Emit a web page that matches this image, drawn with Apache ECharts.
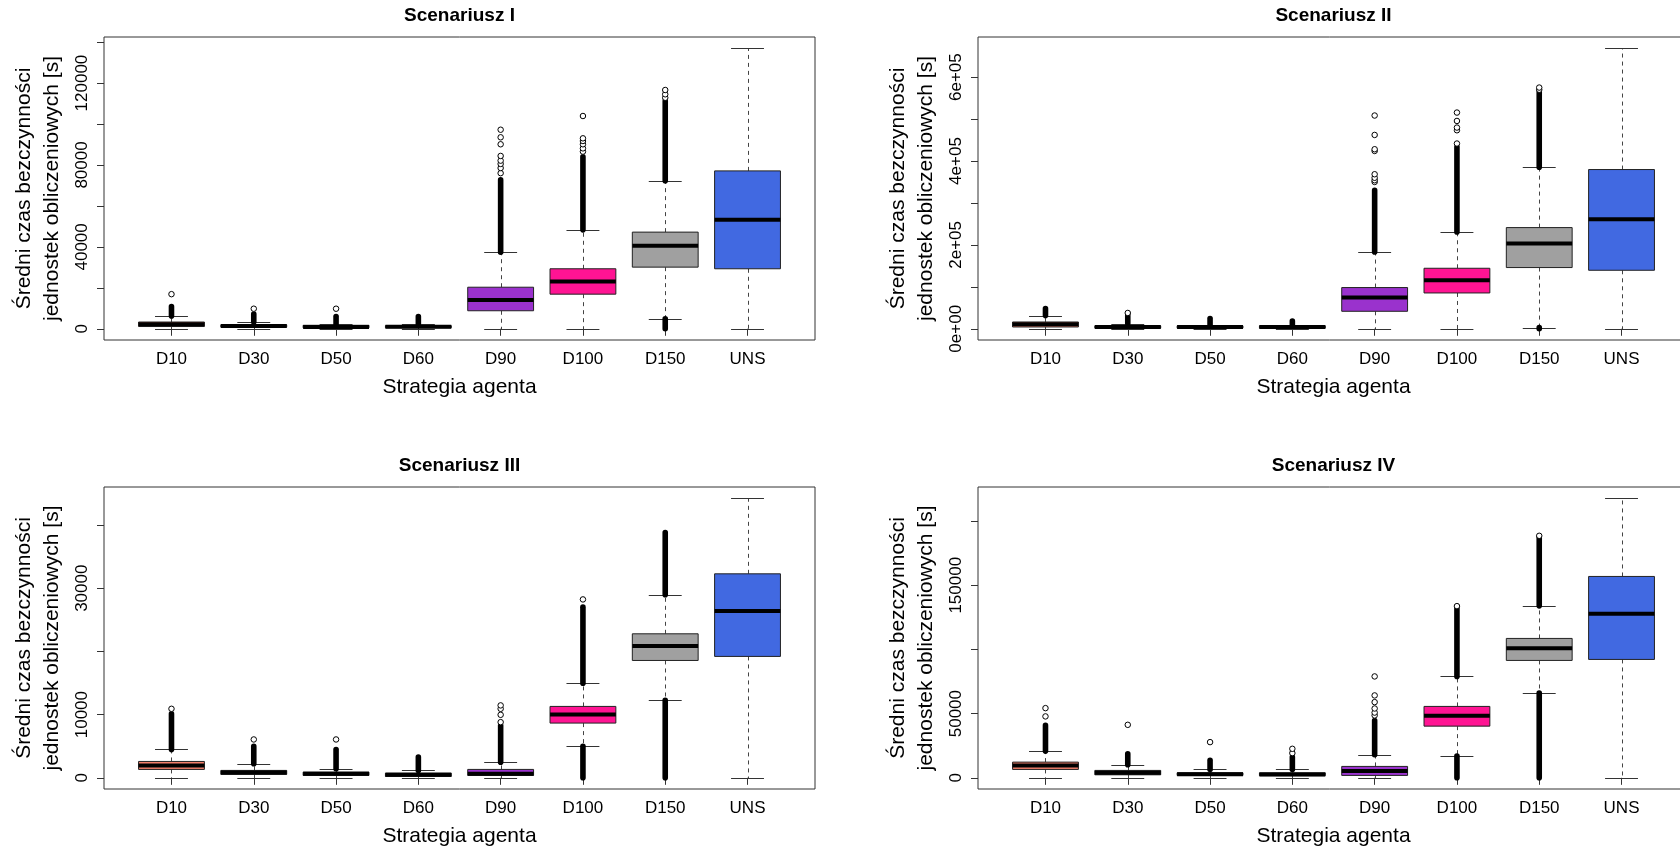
<!DOCTYPE html>
<html>
<head>
<meta charset="utf-8">
<title>Scenariusze</title>
<script src="https://cdn.jsdelivr.net/npm/echarts@6.0.0/dist/echarts.min.js"></script>
<style>
html, body { margin: 0; padding: 0; background: #fff; }
#main { width: 1680px; height: 856px; }
</style>
</head>
<body>
<div id="main"></div>
<script>
// kategorie i kolory pudełek
var categories = ['D10', 'D30', 'D50', 'D60', 'D90', 'D100', 'D150', 'UNS'];
var boxColors = ['#F4806C', '#3a3a3a', '#3a3a3a', '#3a3a3a', '#9A32CD', '#FF1493', '#A0A0A0', '#4169E1'];
var titles = ['Scenariusz I', 'Scenariusz II', 'Scenariusz III', 'Scenariusz IV'];

// [dolny wąs, Q1, mediana, Q3, górny wąs]
var s1Stats = [
    [0, 1100, 2200, 3300, 6300],
    [0, 800, 1300, 1950, 3300],
    [0, 450, 900, 1700, 2200],
    [0, 500, 1000, 1500, 2300],
    [0, 8800, 14100, 20300, 37400],
    [0, 16900, 23100, 29300, 48300],
    [4900, 30100, 40500, 47200, 72300],
    [0, 29300, 53200, 77100, 137000]
];
// gęste serie obserwacji odstających [kategoria, od, do]
var s1Dense = [[1, 6300, 10900], [2, 3300, 7200], [3, 2200, 6000], [4, 2300, 6000],
    [5, 37400, 72700], [6, 48300, 84000], [7, 72300, 111200], [7, 0, 4900]];
// pojedyncze obserwacje odstające [kategoria, wartość]
var s1Points = [[1, 16900], [2, 9800], [3, 9800],
    [5, 76000], [5, 78500], [5, 80500], [5, 82100], [5, 84400], [5, 90100], [5, 93500], [5, 97200],
    [6, 86500], [6, 88100], [6, 90100], [6, 91700], [6, 93000], [6, 103900],
    [7, 112800], [7, 114500], [7, 116600]];
var s1Ticks = [0, 20000, 40000, 60000, 80000, 100000, 120000, 140000];
var s1Labels = [0, 40000, 80000, 120000];

var s2Stats = [
    [0, 4300, 10700, 16200, 31500],
    [0, 1500, 4000, 7000, 12400],
    [0, 1500, 4000, 7000, 9000],
    [0, 1500, 4000, 7000, 9000],
    [0, 41700, 74400, 98300, 183200],
    [0, 85400, 115700, 144300, 230900],
    [2900, 146000, 203200, 241300, 385200],
    [0, 139500, 261100, 379700, 669000]
];
var s2Dense = [[1, 31500, 48200], [2, 12400, 32200], [3, 9000, 24300], [4, 9000, 18600],
    [5, 183200, 330300], [6, 230900, 433600], [7, 385200, 564800], [7, 0, 2900]];
var s2Points = [[2, 37700],
    [5, 350100], [5, 354200], [5, 360000], [5, 368500], [5, 424000], [5, 428100], [5, 462200], [5, 508500],
    [6, 441700], [6, 473400], [6, 479800], [6, 495600], [6, 515600],
    [7, 570000], [7, 575200]];
var s2Ticks = [0, 100000, 200000, 300000, 400000, 500000, 600000];
var s2Labels = [0, 200000, 400000, 600000];

var s3Stats = [
    [0, 1330, 1960, 2590, 4490],
    [0, 540, 850, 1170, 2220],
    [0, 380, 650, 900, 1430],
    [0, 220, 480, 740, 1170],
    [0, 380, 630, 1330, 2480],
    [4970, 8660, 10030, 11300, 14980],
    [12250, 18570, 20840, 22790, 28960],
    [0, 19210, 26380, 32280, 44250]
];
var s3Dense = [[1, 4490, 10130], [2, 2220, 4970], [3, 1430, 4490], [4, 1170, 3280], [5, 2480, 8290],
    [6, 14980, 27010], [6, 0, 4970], [7, 28960, 38830], [7, 0, 12250]];
var s3Points = [[1, 10920], [2, 6070], [3, 6070], [5, 8810], [5, 9970], [5, 10920], [5, 11460], [6, 28230]];
var s3Ticks = [0, 10000, 20000, 30000, 40000];
var s3Labels = [0, 10000, 30000];

var s4Stats = [
    [0, 6540, 9660, 12230, 20790],
    [0, 2340, 4000, 5760, 10120],
    [0, 1870, 2800, 3890, 6540],
    [0, 1700, 2600, 3890, 6540],
    [0, 1870, 5220, 8880, 17910],
    [16900, 40260, 48290, 55610, 78970],
    [65970, 91430, 101010, 108570, 133960],
    [0, 92210, 127730, 156850, 217800]
];
var s4Dense = [[1, 20790, 40810], [2, 10120, 18690], [3, 6540, 13550], [4, 6540, 16120], [5, 17910, 44700],
    [6, 78970, 132940], [6, 0, 16900], [7, 133960, 187460], [7, 0, 65970]];
var s4Points = [[1, 47820], [1, 54280], [2, 41280], [3, 27800], [4, 19240], [4, 22590],
    [5, 48600], [5, 50800], [5, 54000], [5, 58960], [5, 64170], [5, 78970], [6, 133720], [7, 188500]];
var s4Ticks = [0, 50000, 100000, 150000, 200000];
var s4Labels = [0, 50000, 150000];

var FONT = 'Liberation Sans, Arial, sans-serif';

// położenie paneli (ramka wykresu); prawe panele wychodzą poza obraz
var panels = [
    {left: 104, top: 37, height: 303, stats: s1Stats, dense: s1Dense, points: s1Points, ticks: s1Ticks, labels: s1Labels, sci: false},
    {left: 978, top: 37, height: 303, stats: s2Stats, dense: s2Dense, points: s2Points, ticks: s2Ticks, labels: s2Labels, sci: true},
    {left: 104, top: 487, height: 302, stats: s3Stats, dense: s3Dense, points: s3Points, ticks: s3Ticks, labels: s3Labels, sci: false},
    {left: 978, top: 487, height: 302, stats: s4Stats, dense: s4Dense, points: s4Points, ticks: s4Ticks, labels: s4Labels, sci: false}
];
var PANEL_W = 711;

function sciFormat(v) {
    if (v === 0) return '0e+00';
    var e = Math.floor(Math.log10(v));
    var m = Math.round(v / Math.pow(10, e));
    return m + 'e+' + (e < 10 ? '0' + e : e);
}

function renderBox(params, api) {
    var x = api.value(0);
    var low = api.value(1), q1 = api.value(2), med = api.value(3), q3 = api.value(4), high = api.value(5);
    var cx = Math.round(api.coord([x, 0])[0]) + 0.5;
    var bl = api.coord([x - 0.4, 0])[0], br = api.coord([x + 0.4, 0])[0];
    var cl = api.coord([x - 0.2, 0])[0], cr = api.coord([x + 0.2, 0])[0];
    var yLow = Math.round(api.coord([x, low])[1]) + 0.5;
    var yHigh = Math.round(api.coord([x, high])[1]) + 0.5;
    var yQ1 = api.coord([x, q1])[1], yQ3 = api.coord([x, q3])[1], yMed = api.coord([x, med])[1];
    var dash = {stroke: '#444', lineWidth: 1, lineDash: [4, 4]};
    var cap = {stroke: '#333', lineWidth: 1};
    return {
        type: 'group',
        children: [
            {type: 'line', shape: {x1: cx, y1: yQ3, x2: cx, y2: yHigh}, style: dash},
            {type: 'line', shape: {x1: cx, y1: yQ1, x2: cx, y2: yLow}, style: dash},
            {type: 'line', shape: {x1: cl, y1: yHigh, x2: cr, y2: yHigh}, style: cap},
            {type: 'line', shape: {x1: cl, y1: yLow, x2: cr, y2: yLow}, style: cap},
            {type: 'rect', shape: {x: bl, y: yQ3, width: br - bl, height: yQ1 - yQ3},
                style: {fill: boxColors[x - 1], stroke: '#222', lineWidth: 1}},
            {type: 'line', shape: {x1: bl, y1: yMed, x2: br, y2: yMed}, style: {stroke: '#000', lineWidth: 4}}
        ]
    };
}

function renderDense(params, api) {
    var x = api.value(0);
    var top = api.coord([x, api.value(2)]);
    var bot = api.coord([x, api.value(1)]);
    var r = 2.8;
    return {
        type: 'rect',
        shape: {x: top[0] - r, y: top[1] - r, width: 2 * r, height: bot[1] - top[1] + 2 * r, r: r},
        style: {fill: '#000'}
    };
}

var option = {
    animation: false,
    backgroundColor: '#fff',
    textStyle: {fontFamily: FONT},
    title: [],
    grid: [],
    xAxis: [],
    yAxis: [],
    series: []
};

panels.forEach(function (p, i) {
    var maxVal = 0;
    p.stats.forEach(function (s) { maxVal = Math.max(maxVal, s[4]); });
    p.dense.forEach(function (d) { maxVal = Math.max(maxVal, d[2]); });
    p.points.forEach(function (d) { maxVal = Math.max(maxVal, d[1]); });

    option.title.push({
        text: titles[i],
        left: p.left + PANEL_W / 2,
        top: p.top - 31,
        textAlign: 'center',
        padding: 0,
        textStyle: {fontSize: 19, fontWeight: 'bold', color: '#000', fontFamily: FONT}
    });
    option.grid.push({
        left: p.left, top: p.top, width: PANEL_W, height: p.height,
        outerBoundsMode: 'none', containLabel: false,
        show: true, borderColor: '#333', borderWidth: 1, backgroundColor: 'transparent'
    });
    option.xAxis.push({
        type: 'value', gridIndex: i, min: 0.18, max: 8.82,
        name: 'Strategia agenta', nameLocation: 'middle', nameGap: 37,
        nameTextStyle: {fontSize: 21, color: '#000', fontFamily: FONT},
        axisLine: {show: false},
        axisTick: {show: true, length: 7, customValues: [1, 2, 3, 4, 5, 6, 7, 8], lineStyle: {color: '#333'}},
        axisLabel: {
            customValues: [1, 2, 3, 4, 5, 6, 7, 8], margin: 11, fontSize: 17, color: '#000', fontFamily: FONT,
            formatter: function (v) { return categories[Math.round(v) - 1] || ''; }
        },
        splitLine: {show: false}
    });
    option.yAxis.push({
        type: 'value', gridIndex: i, min: -0.04 * maxVal, max: 1.04 * maxVal,
        name: 'Średni czas bezczynności\njednostek obliczeniowych [s]',
        nameLocation: 'middle', nameRotate: 90, nameGap: 38,
        nameTextStyle: {fontSize: 21, lineHeight: 28, color: '#000', fontFamily: FONT},
        axisLine: {show: false},
        axisTick: {show: true, length: 7, customValues: p.ticks, lineStyle: {color: '#333'}},
        axisLabel: {
            customValues: p.labels, rotate: 90, margin: 13, fontSize: 17, color: '#000', fontFamily: FONT,
            formatter: function (v) { return p.sci ? sciFormat(v) : String(v); }
        },
        splitLine: {show: false}
    });
    var boxData = p.stats.map(function (s, k) { return [k + 1].concat(s); });
    option.series.push({
        type: 'custom', name: 'box' + i, xAxisIndex: i, yAxisIndex: i,
        renderItem: renderBox, data: boxData,
        encode: {x: 0, y: [1, 2, 3, 4, 5]}, silent: true
    });
    option.series.push({
        type: 'custom', name: 'dense' + i, xAxisIndex: i, yAxisIndex: i,
        renderItem: renderDense, data: p.dense,
        encode: {x: 0, y: [1, 2]}, silent: true
    });
    option.series.push({
        type: 'scatter', name: 'out' + i, xAxisIndex: i, yAxisIndex: i,
        data: p.points, symbol: 'circle', symbolSize: 5.5, silent: true,
        itemStyle: {color: '#fff', borderColor: '#000', borderWidth: 1, opacity: 1}
    });
});

var chart = echarts.init(document.getElementById('main'));
chart.setOption(option);
</script>
</body>
</html>
